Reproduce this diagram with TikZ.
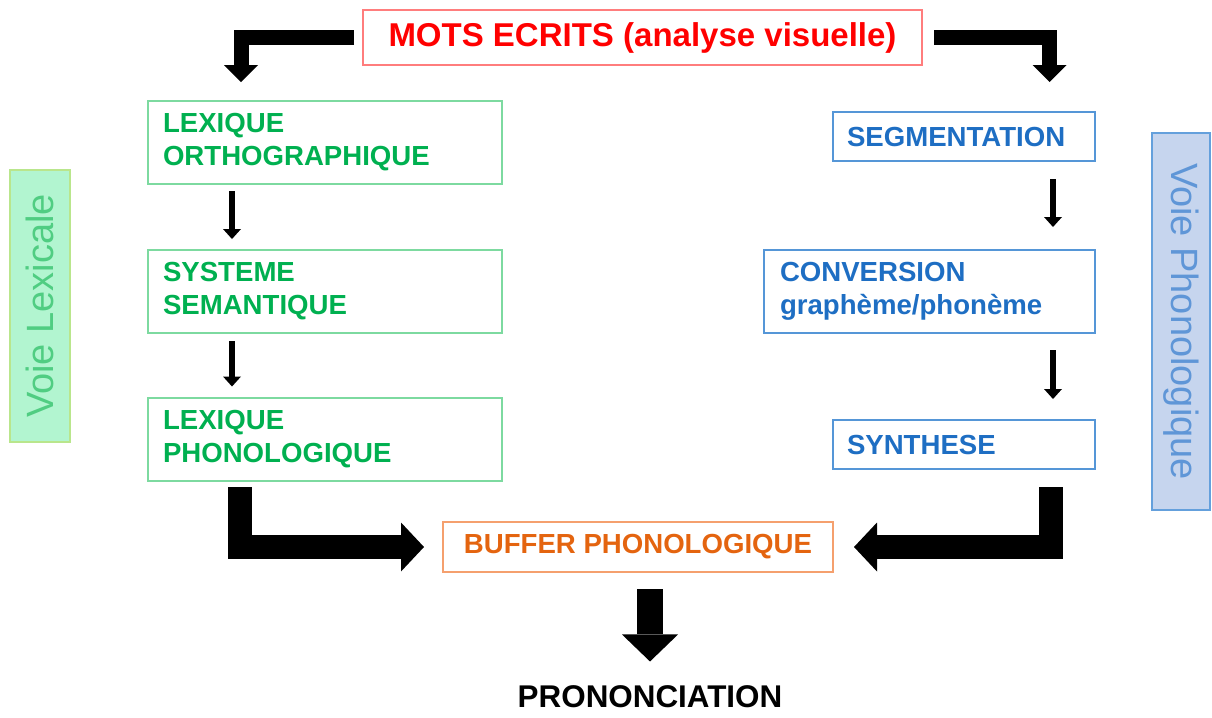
\documentclass[tikz,border=0pt]{standalone}
\usepackage{fontspec}
\setmainfont{Liberation Sans}
\usepackage{tikz}
\usetikzlibrary{arrows.meta, positioning, calc}
\definecolor{rougetxt}{RGB}{255, 0, 0}
\definecolor{rougebord}{RGB}{255, 125, 125}
\definecolor{verttxt}{RGB}{0, 176, 80}
\definecolor{vertbord}{RGB}{125, 218, 160}
\definecolor{bleutxt}{RGB}{30, 110, 195}
\definecolor{bleubord}{RGB}{85, 150, 215}
\definecolor{orangetxt}{RGB}{228, 100, 15}
\definecolor{orangebord}{RGB}{245, 160, 110}
\definecolor{lexfond}{RGB}{178, 245, 208}
\definecolor{lexbord}{RGB}{185, 230, 140}
\definecolor{lextxt}{RGB}{80, 205, 130}
\definecolor{phonfond}{RGB}{198, 213, 238}
\definecolor{phonbord}{RGB}{100, 160, 220}
\definecolor{phontxt}{RGB}{95, 150, 215}

\begin{document}
\begin{tikzpicture}[
    x=0.5pt, y=-0.5pt,
    font=\fontsize{13.8pt}{16.5pt}\selectfont\bfseries,
    tabvert/.style={draw=vertbord, text=verttxt, line width=1pt, align=left,
                    text width=162pt, inner xsep=7.5pt, minimum height=41.5pt},
    tabbleu/.style={draw=bleubord, text=bleutxt, line width=1pt, align=left,
                    text width=117pt, inner xsep=7pt, minimum height=24.5pt},
    voie/.style={line width=1pt, inner sep=0pt, minimum height=30pt,
                 font=\fontsize{19pt}{22pt}\selectfont},
    fleche/.style={line width=7.5pt, -{Triangle[length=8.5pt, width=17pt, line width=0pt]}},
    grossefleche/.style={line width=12pt, -{Triangle[length=11.5pt, width=24.5pt, line width=0pt]}},
    petitefleche/.style={line width=3pt, -{Triangle[length=5pt, width=9pt, line width=0pt]}}
  ]
    \useasboundingbox (0,0) rectangle (1212,718);
    \node[draw=rougebord, text=rougetxt, line width=1pt, minimum width=279.5pt,
          minimum height=27.5pt, font=\fontsize{16.5pt}{19pt}\selectfont\bfseries]
      (mots) at (642.5,37.5) {MOTS ECRITS (analyse visuelle)};
    \node[tabvert] (lexo) at (325,142.5) {LEXIQUE\\ORTHOGRAPHIQUE};
    \node[tabvert] (sem) at (325,291.5) {SYSTEME\\SEMANTIQUE};
    \node[tabvert] (lexp) at (325,439) {LEXIQUE\\PHONOLOGIQUE};
    \node[tabbleu] (seg) at (964,136.5) {SEGMENTATION};
    \node[tabbleu, text width=149.5pt, inner xsep=8pt, minimum height=41.5pt]
      (conv) at (929.5,291.5) {CONVERSION\\graphème/phonème};
    \node[tabbleu] (syn) at (964,444.5) {SYNTHESE};
    \node[draw=orangebord, text=orangetxt, line width=1pt, minimum width=195pt,
          minimum height=25pt] (buf) at (638,547) {BUFFER PHONOLOGIQUE};
    \node[font=\fontsize{15.7pt}{18pt}\selectfont\bfseries, inner sep=0pt]
      (pron) at (650,697) {PRONONCIATION};
    \node[voie, draw=lexbord, fill=lexfond, text=lextxt, rotate=90,
          minimum width=136pt] (vlex) at (40,306) {Voie Lexicale};
    \node[voie, draw=phonbord, fill=phonfond, text=phontxt, rotate=-90,
          minimum width=188.5pt, minimum height=29pt] (vphon) at (1181,321.5)
      {Voie Phonologique};
    % fleches
    \coordinate (hautg) at (241,82);
    \coordinate (hautd) at (1049.5,82);
    \coordinate (basg) at (239.5,487);
    \coordinate (basd) at (1050.5,487);
    \draw[fleche] ([xshift=-4pt]mots.west) -| (hautg);
    \draw[fleche] ([xshift=5.5pt]mots.east) -| (hautd);
    \draw[petitefleche] ([xshift=-46.5pt, yshift=-3pt]lexo.south)
      -- ([xshift=-46.5pt, yshift=5pt]sem.north);
    \draw[petitefleche] ([xshift=-46.5pt, yshift=-3.5pt]sem.south)
      -- ([xshift=-46.5pt, yshift=5pt]lexp.north);
    \draw[petitefleche] ([xshift=44.5pt, yshift=-8.5pt]seg.south)
      -- ([xshift=61.75pt, yshift=11pt]conv.north);
    \draw[petitefleche] ([xshift=61.75pt, yshift=-8pt]conv.south)
      -- ([xshift=44.5pt, yshift=10pt]syn.north);
    \draw[grossefleche] (basg) |- ([xshift=-9pt]buf.west);
    \draw[grossefleche] (basd) |- ([xshift=10pt]buf.east);
    \draw[grossefleche, line width=13pt, -{Triangle[length=13.5pt, width=28pt, line width=0pt]}]
      (pron.north |- buf.south) ++(0,16) -- ([yshift=12pt]pron.north);
  \end{tikzpicture}
\end{document}
